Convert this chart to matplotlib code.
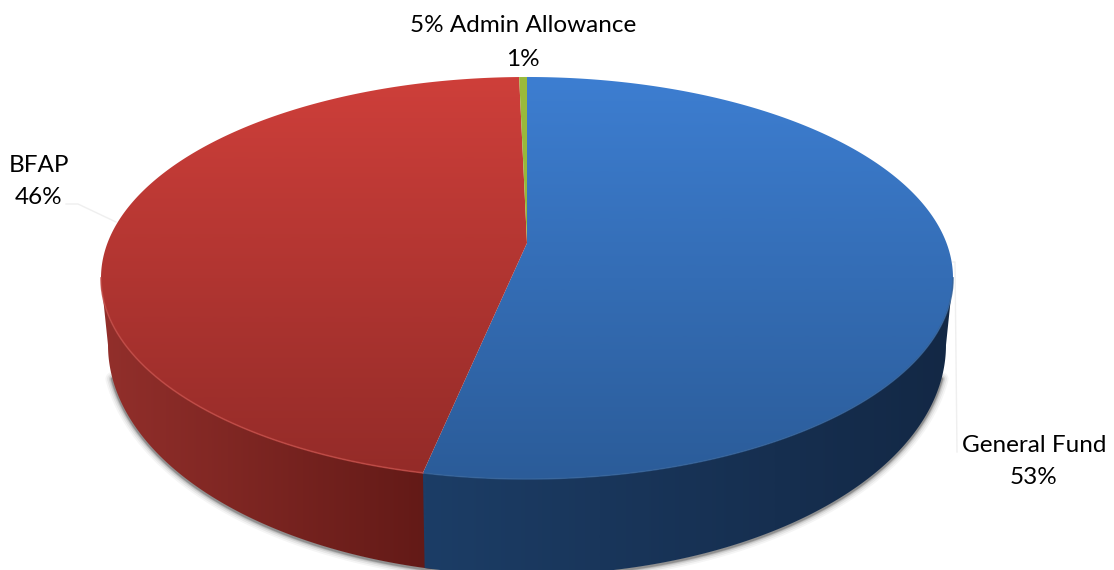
import numpy as np
import matplotlib
matplotlib.use("Agg")
import matplotlib.pyplot as plt
from matplotlib.colors import LinearSegmentedColormap
from matplotlib.patches import Polygon

# slices, clockwise from 12 o'clock
names = ["General Fund", "BFAP", "5% Admin Allowance"]
values = [53.3, 46.35, 0.35]
pct_labels = ["53%", "46%", "1%"]

top_colors = [("#3d7ed1", "#2b5c99"), ("#ce3f3a", "#932b28"), ("#9bbb3c", "#8fb035")]
side_colors = [("#1c3d66", "#132845"), ("#631a17", "#922f2b")]
rim_colors = ["#33629a", "#c24a45"]

W, H = 1114, 570
p = 0.174
top_geom = dict(cx=527, cy=243, sx=419.5, sy=194.9)
bot_geom = dict(cx=527, cy=305, sx=412.6, sy=223)
# where the outline turns round, in degrees from 12 o'clock
turn = np.degrees(np.arccos(-p))


def project(theta, cx, cy, sx, sy):
    t = np.radians(theta)
    u, v = np.sin(t), np.cos(t)
    return cx + sx * u / (1 + p * v), cy - sy * v / (1 + p * v)


def gradient_fill(ax, patch, c0, c1, start, stop, axis, z):
    ax.add_patch(patch)
    cmap = LinearSegmentedColormap.from_list("g", [c0, c1])
    if axis == "y":
        coord = np.arange(H) + 0.5
        arr = np.clip((coord - start) / (stop - start), 0, 1)[:, None]
    else:
        coord = np.arange(W) + 0.5
        arr = np.clip((coord - start) / (stop - start), 0, 1)[None, :]
    im = ax.imshow(arr, cmap=cmap, vmin=0, vmax=1, extent=(0, W, H, 0),
                   aspect="auto", zorder=z, interpolation="bilinear")
    im.set_clip_path(patch)


fig = plt.figure(figsize=(W / 100, H / 100), dpi=100)
ax = fig.add_axes([0, 0, 1, 1])
ax.set_xlim(0, W)
ax.set_ylim(H, 0)
ax.axis("off")

edges = np.concatenate([[0], np.cumsum(values) / np.sum(values) * 360])
seam = edges[1]

# soft shadow under the lower outline, starts a little below the turning points
th = np.linspace(turn + 8, 360 - turn - 8, 300)
sx_, sy_ = project(th, **bot_geom)
for lw, a in zip([10, 7.5, 5, 3.2, 2], [0.04, 0.06, 0.09, 0.13, 0.2]):
    ax.plot(sx_, sy_ + 1, color="black", alpha=a, lw=lw, zorder=1, solid_capstyle="round")

# side walls, red runs a bit under the blue so no light line shows at the seam
ranges = [(turn, seam), (seam, 360 - turn)]
wall_ranges = [(turn, seam), (seam - 1, 360 - turn)]
wall_z = [2.1, 2]
for (a, b), (c0, c1), stop, z in zip(wall_ranges, side_colors, [950, 105], wall_z):
    th = np.linspace(a, b, 200)
    tx, ty = project(th, **top_geom)
    bx, by = project(th[::-1], **bot_geom)
    pts = np.column_stack([np.r_[tx, bx], np.r_[ty, by]])
    wall = Polygon(pts, closed=True, facecolor="none", edgecolor="none", transform=ax.transData)
    gradient_fill(ax, wall, c0, c1, 425, stop, "x", z)

# top face
for i in range(len(values)):
    th = np.linspace(edges[i], edges[i + 1], 300)
    ex, ey = project(th, **top_geom)
    pts = np.column_stack([np.r_[top_geom["cx"], ex], np.r_[top_geom["cy"], ey]])
    face = Polygon(pts, closed=True, facecolor="none", edgecolor="none", transform=ax.transData)
    gradient_fill(ax, face, top_colors[i][0], top_colors[i][1], 77, 479, "y", 3 + i * 0.1)

# lighter rim along the front edge
for (a, b), col in zip(ranges, rim_colors):
    th = np.linspace(a, b, 200)
    ex, ey = project(th, **top_geom)
    ax.plot(ex, ey, color=col, lw=1.2, alpha=0.8, zorder=4)

# faint leader lines
ax.plot([66, 78, 116], [204, 204, 222], color="#efefef", lw=1, zorder=0)
ax.plot([953, 955, 957], [262, 262, 452], color="#efefef", lw=1, zorder=0)

# labels
label_pos = [(1034, 445, 478), (39, 165, 198), (523, 25, 59)]
for name, pct, (x, y1, y2) in zip(names, pct_labels, label_pos):
    ax.text(x, y1, name, ha="center", va="center", fontsize=17.5, family="Lato", color="#000000", zorder=6)
    ax.text(x, y2, pct, ha="center", va="center", fontsize=17.5, family="Lato", color="#000000", zorder=6)

ax.set_xlim(0, W)
ax.set_ylim(H, 0)
fig.savefig("out.png", dpi=100)
